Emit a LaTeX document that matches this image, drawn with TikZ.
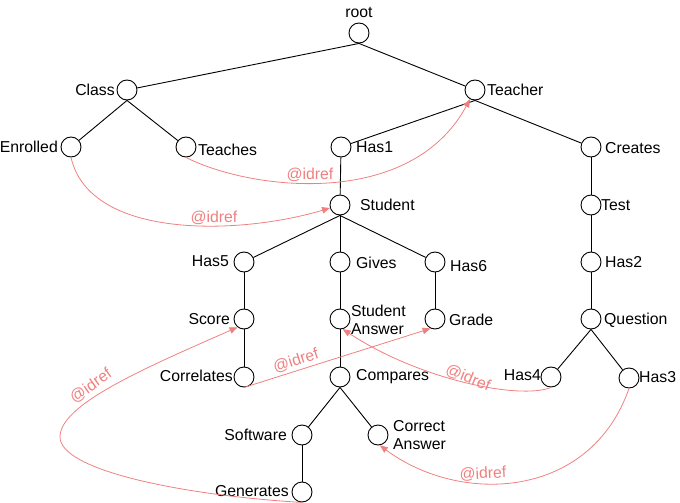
\documentclass[tikz,border=0pt]{standalone}
\usepackage{fontspec}
\setmainfont{Liberation Sans}
\usetikzlibrary{arrows.meta}
\definecolor{refc}{RGB}{240,128,128}
\begin{document}
\begin{tikzpicture}[x=1pt,y=-1pt,
  nd/.style={circle,draw,line width=0.9pt,minimum size=20pt,inner sep=0pt},
  txt/.style={font=\fontsize{15.8}{18.5}\selectfont,inner sep=0pt},
  edge/.style={line width=0.9pt},
  refedge/.style={draw=refc,line width=0.8pt,-{Triangle[length=8pt,width=6.5pt]}},
  reflbl/.style={txt,text=refc}]
\useasboundingbox (0,0) rectangle (680,503);
% nodes
\node[nd] (root) at (359,33) {};
\node[nd] (Class) at (127,90) {};
\node[nd] (Teacher) at (475,90) {};
\node[nd] (Enrolled) at (71,147) {};
\node[nd] (Teaches) at (186,147) {};
\node[nd] (Has1) at (341,147) {};
\node[nd] (Creates) at (591,147) {};
\node[nd] (Student) at (340,205) {};
\node[nd] (Test) at (591,205) {};
\node[nd] (Has5) at (244,262) {};
\node[nd] (Gives) at (340,262) {};
\node[nd] (Has6) at (435,262) {};
\node[nd] (Has2) at (591,262) {};
\node[nd] (Score) at (244,319) {};
\node[nd] (SA) at (340,319) {};
\node[nd] (Grade) at (435,319) {};
\node[nd] (Question) at (591,319) {};
\node[nd] (Correlates) at (244,377) {};
\node[nd] (Compares) at (340,377) {};
\node[nd] (Has4) at (551,377) {};
\node[nd] (Has3) at (629,378) {};
\node[nd] (Software) at (302,435) {};
\node[nd] (CA) at (378,435) {};
\node[nd] (Generates) at (302,492) {};
% labels
\node[txt] (troot) at (359,12) {root};
\node[txt,anchor=east] (tClass) at (115,90) {Class};
\node[txt,anchor=west] (tTeacher) at (487,90) {Teacher};
\node[txt,anchor=east] (tEnrolled) at (58,147) {Enrolled};
\node[txt,anchor=west] (tTeaches) at (198,150) {Teaches};
\node[txt,anchor=west] (tHas1) at (356,147) {Has1};
\node[txt,anchor=west] (tCreates) at (605,148) {Creates};
\node[txt,anchor=west] (tStudent) at (360,205) {Student};
\node[txt,anchor=west] (tTest) at (601,205) {Test};
\node[txt,anchor=east] (tHas5) at (229,261) {Has5};
\node[txt,anchor=west] (tGives) at (356,263) {Gives};
\node[txt,anchor=west] (tHas6) at (450,266) {Has6};
\node[txt,anchor=west] (tHas2) at (605,262) {Has2};
\node[txt,anchor=east] (tScore) at (230,319) {Score};
\node[txt,anchor=west,align=left] (tSA) at (351,320) {Student\\Answer};
\node[txt,anchor=west] (tGrade) at (449,320) {Grade};
\node[txt,anchor=west] (tQuestion) at (604,320) {Question};
\node[txt,anchor=east] (tCorrelates) at (233,376) {Correlates};
\node[txt,anchor=west] (tCompares) at (356,377) {Compares};
\node[txt,anchor=east] (tHas4) at (541,375) {Has4};
\node[txt,anchor=west] (tHas3) at (639,377) {Has3};
\node[txt,anchor=east] (tSoftware) at (287,435) {Software};
\node[txt,anchor=west,align=left] (tCA) at (393,435) {Correct\\Answer};
\node[txt,anchor=east] (tGenerates) at (289,491) {Generates};
% tree edges
\draw[edge] (root.south) -- (Class);
\draw[edge] (root.south) -- (Teacher);
\draw[edge] (Class.south) -- (Enrolled);
\draw[edge] (Class.south) -- (Teaches);
\draw[edge] (Teacher.south) -- (Has1);
\draw[edge] (Teacher.south) -- (Creates);
\draw[edge] (Has1) -- (Student);
\draw[edge] (Creates) -- (Test);
\draw[edge] (Student.south) -- (Has5);
\draw[edge] (Student) -- (Gives);
\draw[edge] (Student.south) -- (Has6);
\draw[edge] (Test) -- (Has2);
\draw[edge] (Has5) -- (Score);
\draw[edge] (Gives) -- (SA);
\draw[edge] (Has6) -- (Grade);
\draw[edge] (Has2) -- (Question);
\draw[edge] (Score) -- (Correlates);
\draw[edge] (SA) -- (Compares);
\draw[edge] (Question.south) -- (Has4);
\draw[edge] (Question.south) -- (Has3);
\draw[edge] (Compares.south) -- (Software);
\draw[edge] (Compares.south) -- (CA);
\draw[edge] (Software) -- (Generates);
% idref connectors
\draw[refedge] (Teaches.south) .. controls (250,190) and (410,210) .. (Teacher);
\draw[refedge] (Enrolled.south) .. controls (90,240) and (240,235) .. (Student);
\draw[refedge] (Correlates.south) -- (Grade.-115);
\draw[refedge] (Generates.south) .. controls (180,495) and (60,470) .. (60,437)
   .. controls (60,405) and (140,370) .. (Score.-128);
\draw[refedge] (Has4.south) .. controls (520,400) and (420,380) .. (SA.-75);
\draw[refedge] (Has3.south) .. controls (590,500) and (460,505) .. (CA.-80);
% idref labels
\node[reflbl] (l1) at (310,175) {@idref};
\node[reflbl] (l2) at (214,218) {@idref};
\node[reflbl,rotate=18] (l3) at (296,361) {@idref};
\node[reflbl,rotate=35] (l4) at (91,386) {@idref};
\node[reflbl,rotate=-22] (l5) at (468,378) {@idref};
\node[reflbl,rotate=3] (l6) at (483,474) {@idref};
\end{tikzpicture}
\end{document}
